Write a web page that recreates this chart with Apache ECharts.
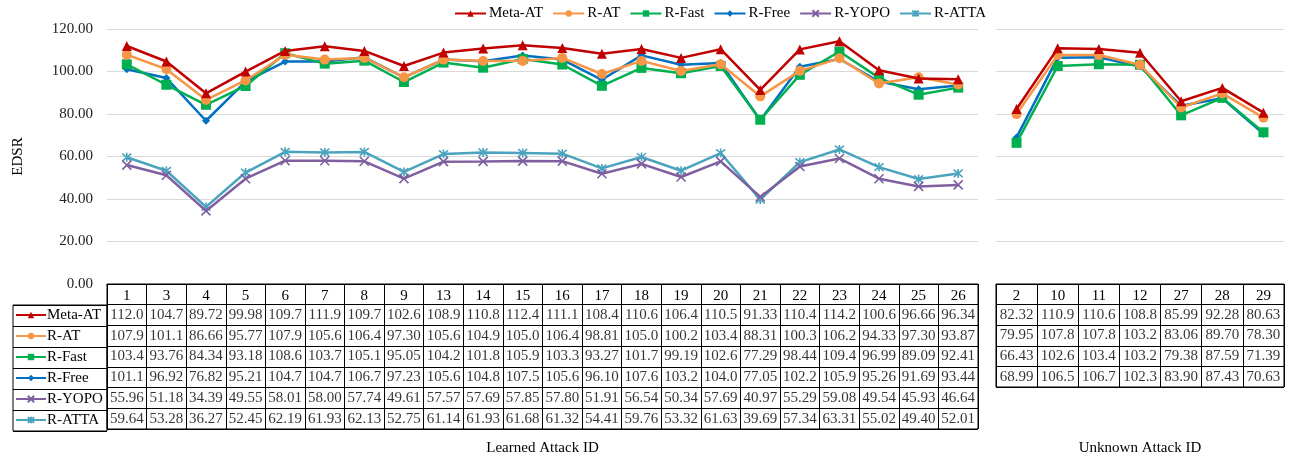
<!DOCTYPE html>
<html>
<head>
<meta charset="utf-8">
<script src="https://cdn.jsdelivr.net/npm/echarts@6/dist/echarts.min.js"></script>
<style>
  html, body { margin: 0; padding: 0; background: #fff; }
  #chart { width: 1296px; height: 457px; }
</style>
</head>
<body>
<div id="chart"></div>
<script>
// attack ids
var learnedIds = ['1','3','4','5','6','7','8','9','13','14','15','16','17','18','19','20','21','22','23','24','25','26']
var unknownIds = ['2','10','11','12','27','28','29']
var methods = ['Meta-AT','R-AT','R-Fast','R-Free','R-YOPO','R-ATTA']

// EDSR on learned attacks
var metaAtLearned = [112.0,104.7,89.72,99.98,109.7,111.9,109.7,102.6,108.9,110.8,112.4,111.1,108.4,110.6,106.4,110.5,91.33,110.4,114.2,100.6,96.66,96.34]
var rAtLearned    = [107.9,101.1,86.66,95.77,107.9,105.6,106.4,97.30,105.6,104.9,105.0,106.4,98.81,105.0,100.2,103.4,88.31,100.3,106.2,94.33,97.30,93.87]
var rFastLearned  = [103.4,93.76,84.34,93.18,108.6,103.7,105.1,95.05,104.2,101.8,105.9,103.3,93.27,101.7,99.19,102.6,77.29,98.44,109.4,96.99,89.09,92.41]
var rFreeLearned  = [101.1,96.92,76.82,95.21,104.7,104.7,106.7,97.23,105.6,104.8,107.5,105.6,96.10,107.6,103.2,104.0,77.05,102.2,105.9,95.26,91.69,93.44]
var rYopoLearned  = [55.96,51.18,34.39,49.55,58.01,58.00,57.74,49.61,57.57,57.69,57.85,57.80,51.91,56.54,50.34,57.69,40.97,55.29,59.08,49.54,45.93,46.64]
var rAttaLearned  = [59.64,53.28,36.27,52.45,62.19,61.93,62.13,52.75,61.14,61.93,61.68,61.32,54.41,59.76,53.32,61.63,39.69,57.34,63.31,55.02,49.40,52.01]

// EDSR on unknown attacks
var metaAtUnknown = [82.32,110.9,110.6,108.8,85.99,92.28,80.63]
var rAtUnknown    = [79.95,107.8,107.8,103.2,83.06,89.70,78.30]
var rFastUnknown  = [66.43,102.6,103.4,103.2,79.38,87.59,71.39]
var rFreeUnknown  = [68.99,106.5,106.7,102.3,83.90,87.43,70.63]

var yTicks = [0, 20, 40, 60, 80, 100, 120]

var learnedRows = [metaAtLearned, rAtLearned, rFastLearned, rFreeLearned, rYopoLearned, rAttaLearned]
var unknownRows = [metaAtUnknown, rAtUnknown, rFastUnknown, rFreeUnknown]

var colors = ['#C00000', '#F79646', '#00B050', '#0070C0', '#7F5F9F', '#4BA3BE']
var symbols = [
    'triangle', 'circle', 'rect', 'diamond',
    'path://M0,0L10,10M10,0L0,10',
    'path://M0,0L10,10M10,0L0,10M5,-1L5,11'
]
var symbolSizes = [10, 10, 10, 8, 9, 9]
var FONT = '"Liberation Serif", "Times New Roman", serif'

var chart = echarts.init(document.getElementById('chart'))

function lineSeries(name, idx, data, axisIdx){
    var isPath = symbols[idx].indexOf('path://') === 0
    return {
        type: 'line',
        name: name,
        xAxisIndex: axisIdx,
        yAxisIndex: axisIdx,
        data: data,
        symbol: symbols[idx],
        symbolSize: symbolSizes[idx],
        showAllSymbol: true,
        lineStyle: { color: colors[idx], width: 2.5 },
        itemStyle: isPath ? { color: colors[idx], borderColor: colors[idx], borderWidth: 1.6 } : { color: colors[idx] },
        emphasis: { disabled: true },
        z: 10 - idx
    }
}

function tableSeries(rows, axisX, axisY){
    var d = []
    rows.forEach(function(vals, r){
        vals.forEach(function(v, c){ d.push([c, methods[r], v]) })
    })
    return {
        type: 'scatter',
        xAxisIndex: axisX,
        yAxisIndex: axisY,
        data: d,
        symbolSize: 1,
        itemStyle: { color: 'rgba(0,0,0,0)' },
        silent: true,
        label: {
            show: true,
            position: 'inside',
            fontFamily: FONT,
            fontSize: 15,
            color: '#000',
            formatter: function(p){ return p.value[2].toPrecision(4) }
        }
    }
}

var series = []
learnedRows.forEach(function(vals, i){ series.push(lineSeries(methods[i], i, vals, 0)) })
unknownRows.forEach(function(vals, i){ series.push(lineSeries(methods[i], i, vals, 1)) })
series.push(tableSeries(learnedRows, 2, 2))
series.push(tableSeries(unknownRows, 4, 3))

var hidden = { show: false }
var tableLine = { show: true, lineStyle: { color: '#000', width: 1 } }

function headerAxis(gridIdx, ids){
    return {
        gridIndex: gridIdx, type: 'category', data: ids, position: 'top', boundaryGap: true,
        axisLine: tableLine, axisTick: hidden,
        splitLine: { show: true, interval: 0, lineStyle: { color: '#000', width: 1 } },
        axisLabel: { inside: true, interval: 0, margin: 5, fontFamily: FONT, fontSize: 15, color: '#000' }
    }
}
function nameAxis(gridIdx, ids, name, gap){
    return {
        gridIndex: gridIdx, type: 'category', data: ids, position: 'bottom',
        axisLine: hidden, axisTick: hidden, axisLabel: hidden, splitLine: hidden,
        name: name, nameLocation: 'middle', nameGap: gap,
        nameTextStyle: { fontFamily: FONT, fontSize: 15, color: '#000' }
    }
}
function plotY(gridIdx, showLabels){
    return {
        gridIndex: gridIdx, type: 'value', min: yTicks[0], max: yTicks[yTicks.length - 1], interval: 20,
        axisLine: hidden, axisTick: hidden,
        axisLabel: showLabels ? {
            fontFamily: FONT, fontSize: 15, color: '#222', margin: 14,
            formatter: function(v){ return v.toFixed(2) }
        } : hidden,
        splitLine: { show: true, lineStyle: { color: '#d9d9d9', width: 1.2 } },
        name: showLabels ? 'EDSR' : '', nameLocation: 'middle', nameGap: 81, nameRotate: 90,
        nameTextStyle: { fontFamily: FONT, fontSize: 15, color: '#000' }
    }
}
function rowAxis(gridIdx, rows){
    return {
        gridIndex: gridIdx, type: 'category', data: rows, inverse: true,
        axisLine: hidden, axisTick: hidden, axisLabel: hidden,
        splitLine: { show: true, interval: 0, lineStyle: { color: '#000', width: 1 } }
    }
}

var option = {
    animation: false,
    textStyle: { fontFamily: FONT },
    legend: [{
        data: methods,
        left: 449, top: 1,
        itemWidth: 31, itemHeight: 8, itemGap: 9,
        textStyle: { fontFamily: FONT, fontSize: 15, color: '#000', padding: [0, 0, 0, -2] },
        selectedMode: false
    }, {
        data: methods,
        orient: 'vertical',
        left: 15, top: 307, padding: 0,
        itemWidth: 30, itemHeight: 8, itemGap: 5,
        textStyle: { fontFamily: FONT, fontSize: 15, color: '#000', lineHeight: 16, padding: [0, 0, 0, -4] },
        selectedMode: false
    }],
    grid: [
        { left: 107, top: 29, width: 871, height: 255 },
        { left: 996, top: 29, width: 288, height: 255 },
        { left: 107, top: 284, width: 871, height: 147, show: true, borderColor: '#000', borderWidth: 1 },
        { left: 996, top: 284, width: 288, height: 105, show: true, borderColor: '#000', borderWidth: 1 },
        { left: 13, top: 305, width: 94, height: 126, show: true, borderColor: '#000', borderWidth: 1 }
    ],
    xAxis: [
        { gridIndex: 0, type: 'category', data: learnedIds, boundaryGap: true, axisLine: hidden, axisTick: hidden, axisLabel: hidden },
        { gridIndex: 1, type: 'category', data: unknownIds, boundaryGap: true, axisLine: hidden, axisTick: hidden, axisLabel: hidden },
        headerAxis(2, learnedIds),
        nameAxis(2, learnedIds, 'Learned Attack ID', 12),
        headerAxis(3, unknownIds),
        nameAxis(3, unknownIds, 'Unknown Attack ID', 54),
        { gridIndex: 4, type: 'category', data: [''], axisLine: hidden, axisTick: hidden, axisLabel: hidden }
    ],
    yAxis: [
        plotY(0, true),
        plotY(1, false),
        rowAxis(2, ['ID'].concat(methods)),
        rowAxis(3, ['ID'].concat(methods.slice(0, 4))),
        rowAxis(4, methods)
    ],
    series: series
}

chart.setOption(option)
</script>
</body>
</html>
